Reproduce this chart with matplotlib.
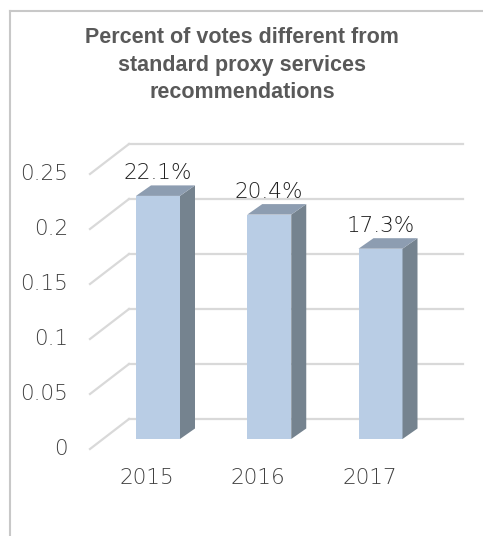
import matplotlib
matplotlib.use("Agg")
import matplotlib.pyplot as plt
from matplotlib.patches import Polygon
from matplotlib.lines import Line2D

# data
years = ["2015", "2016", "2017"]
share = [0.221, 0.204, 0.173]
labels = ["22.1%", "20.4%", "17.3%"]
ticks = [0, 0.05, 0.1, 0.15, 0.2, 0.25]
tick_labels = ["0", "0.05", "0.1", "0.15", "0.2", "0.25"]

W, H = 483, 536
fig = plt.figure(figsize=(W / 100, H / 100), dpi=100)
ax = fig.add_axes([0, 0, 1, 1])
ax.set_axis_off()

# pixel scale of the category / value axes
px_x = 111.25
px_y = 1100.0
ax.set_xlim(-158 / px_x, (W - 158) / px_x)
ax.set_ylim(-(H - 439) / px_y, 439 / px_y)

def dx(p):
    return p / px_x

def dy(p):
    return p / px_y

grid_col = "#d9d9d9"
txt_col = "#404040"
num_font = ["DejaVu Sans"]
num_w = "light"

# back wall offset from bar front plane, and side wall front edge
wall_x0, wall_x1 = dx(129 - 158), dx(463 - 158)
wall_dy = dy(20)
side_dx, side_dy = dx(-39), dy(-30)

for t in ticks:
    yb = t + wall_dy
    ax.plot([wall_x0, wall_x1], [yb, yb], color=grid_col, lw=1.6, zorder=1)
    ax.plot([wall_x0, wall_x0 + side_dx], [yb, yb + side_dy], color=grid_col, lw=1.6, zorder=1)

for t, s in zip(ticks, tick_labels):
    ax.text(dx(68 - 158), t - dy(10), s, ha="right", va="center",
            fontsize=15.5, color=txt_col, family=num_font, fontweight=num_w)

# bars with fake depth
half = dx(22)
bdx, bdy = dx(15), dy(10.5)
front_c = "#b9cde5"
side_c = "#75838f"
top_c = "#8d9db1"
for i, v in enumerate(share):
    l, r = i - half, i + half
    ax.add_patch(Polygon([(l, 0), (r, 0), (r, v), (l, v)], closed=True,
                         facecolor=front_c, edgecolor="none", zorder=3))
    ax.add_patch(Polygon([(r, 0), (r + bdx, bdy), (r + bdx, v + bdy), (r, v)], closed=True,
                         facecolor=side_c, edgecolor="none", zorder=3))
    ax.add_patch(Polygon([(l, v), (r, v), (r + bdx, v + bdy), (l + bdx, v + bdy)], closed=True,
                         facecolor=top_c, edgecolor="none", zorder=3))
    ax.text(i, v + dy(17), labels[i], ha="center", va="baseline",
            fontsize=15.5, color="#1f1f1f", family=num_font, fontweight=num_w)
    ax.text(i - dx(11), -dy(39), years[i], ha="center", va="center",
            fontsize=15.5, color=txt_col, family=num_font, fontweight=num_w)

fig.text(242 / W, 1 - 65 / H,
         "Percent of votes different from\nstandard proxy services\nrecommendations",
         ha="center", va="center", fontsize=15.5, fontweight="bold", color="#595959",
         linespacing=1.4, family=["Liberation Sans Narrow", "Liberation Sans", "DejaVu Sans"])

# chart frame (clipped by the picture edges)
fig.add_artist(Line2D([10 / W, 10 / W], [0, 1 - 11 / H], color="#c8c8c8", lw=1.5))
fig.add_artist(Line2D([10 / W, 1], [1 - 11 / H, 1 - 11 / H], color="#c8c8c8", lw=1.5))

fig.savefig("out.png", dpi=100, facecolor="white")
